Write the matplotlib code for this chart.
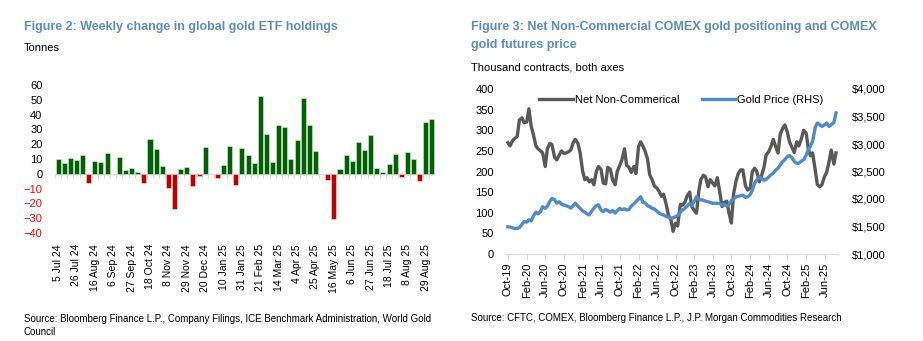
import numpy as np
import pandas as pd
import matplotlib
matplotlib.use('Agg')
import matplotlib.pyplot as plt
import matplotlib.dates as mdates
from matplotlib.ticker import FuncFormatter

plt.rcParams['font.family'] = ['Liberation Sans', 'DejaVu Sans']

# Figure 2 data: weekly change in global gold ETF holdings (tonnes), weeks from 5 Jul 24
etf_change = [10.1, 7.4, 10.7, 9.4, 12.5, -6.5, 8.5, 7.8, 14.1, 0.0,
              11.6, 2.9, 3.8, 1.3, -6.5, 23.7, 16.6, 5.1, -9.8, -23.9,
              3.4, 4.3, -8.5, -1.8, 17.9, -0.4, -3.1, 5.8, 18.6, -7.8,
              17.2, 12.5, 7.4, 52.6, 27.1, 8.1, 33.3, 31.3, 10.3, 22.8,
              51.5, 33.1, 15.4, 0.2, -4.4, -30.8, 3.1, 12.6, 8.6, 21.8,
              15.9, 26.3, 3.9, 1.4, 6.6, 13.5, -2.3, 14.8, 10.0, -5.0,
              35.0, 37.0]
week_start = '2024-07-05'

# Figure 3 data: semi-monthly readings from Oct-19
net_noncomm = [270, 262, 275, 280, 285, 325, 330, 318, 320, 352,
               310, 290, 262, 255, 250, 245, 212, 255, 268, 265,
               235, 228, 240, 250, 244, 245, 248, 252, 270, 278,
               268, 245, 200, 180, 185, 175, 180, 168, 200, 212,
               205, 172, 170, 210, 205, 180, 168, 200, 215, 228,
               255, 215, 210, 198, 212, 195, 260, 272, 262, 250,
               230, 192, 180, 165, 160, 152, 140, 145, 120, 95,
               82, 55, 75, 68, 120, 118, 125, 140, 150, 115,
               105, 99, 150, 180, 191, 187, 163, 180, 172, 165,
               185, 155, 115, 125, 128, 100, 75, 145, 178, 195,
               204, 204, 165, 155, 160, 200, 208, 200, 175, 190,
               210, 240, 248, 260, 278, 262, 245, 290, 305, 313,
               295, 272, 258, 246, 272, 262, 280, 300, 293, 255,
               238, 245, 204, 168, 163, 168, 188, 198, 225, 252,
               218, 245]
gold_price = [1495, 1490, 1475, 1465, 1465, 1480, 1540, 1590, 1580, 1620,
              1600, 1690, 1760, 1730, 1770, 1860, 1830, 1870, 1960, 2010,
              1990, 1925, 1950, 1905, 1890, 1880, 1860, 1835, 1880, 1925,
              1870, 1830, 1780, 1760, 1730, 1710, 1780, 1830, 1880, 1895,
              1800, 1770, 1810, 1790, 1760, 1790, 1745, 1790, 1830, 1805,
              1820, 1800, 1810, 1870, 1910, 1950, 2000, 2040, 1940, 1930,
              1880, 1860, 1830, 1820, 1780, 1745, 1720, 1710, 1680, 1670,
              1650, 1660, 1680, 1700, 1760, 1800, 1830, 1870, 1920, 1880,
              1960, 2040, 2000, 1985, 1980, 1960, 1950, 1940, 1920, 1925,
              1920, 1920, 1890, 1900, 1870, 1900, 1970, 2000, 2040, 2050,
              2060, 2070, 2030, 2040, 2080, 2160, 2290, 2340, 2400, 2380,
              2340, 2360, 2400, 2440, 2470, 2520, 2560, 2620, 2680, 2720,
              2770, 2790, 2750, 2680, 2650, 2650, 2690, 2710, 2800, 2900,
              2960, 3050, 3300, 3380, 3350, 3320, 3350, 3380, 3320, 3350,
              3390, 3565]

title_blue = '#5B8DC4'
green = '#006100'
red = '#C00000'
grey_line = '#595959'
gold_blue = '#4F8BC9'
light = '#D9D9D9'

W, H = 923, 341
fig = plt.figure(figsize=(W / 100, H / 100), dpi=100)

# ---------------- Figure 2 ----------------
weeks = pd.date_range(week_start, periods=len(etf_change), freq='7D')
labels = [f"{d.day} {d:%b %y}" for d in weeks]
x = np.arange(len(etf_change))
vals = np.array(etf_change)
colors = [green if v >= 0 else red for v in vals]

ax1 = fig.add_axes([55 / W, 1 - 233 / H, 380 / W, 148 / H])
ax1.bar(x, vals, width=0.82, color=colors, edgecolor='#E6E6E6', linewidth=0.4, zorder=3)
ax1.axhline(0, color=light, lw=1.0, zorder=2)
ax1.set_xlim(-0.5, len(x) - 0.5)
ax1.set_ylim(-40, 60)
ax1.set_yticks(np.arange(-40, 61, 10))
ax1.tick_params(axis='y', length=0, pad=9, labelsize=8)
for t, v in zip(ax1.get_yticklabels(), np.arange(-40, 61, 10)):
    t.set_color('#FF0000' if v < 0 else 'black')
ax1.set_xticks(x[::3])
ax1.set_xticklabels(labels[::3], rotation=90, fontsize=7.5)
ax1.tick_params(axis='x', length=0, pad=8)
for s in ax1.spines.values():
    s.set_visible(False)
# small category ticks on the zero line
sec = ax1.secondary_xaxis(0.4)
sec.set_xticks(x - 0.5)
sec.set_xticklabels([])
sec.tick_params(axis='x', direction='out', length=3, color=light, width=0.8)
sec.spines['bottom'].set_visible(False)

fig.text(24 / W, 1 - 27 / H, 'Figure 2: Weekly change in global gold ETF holdings',
         fontsize=9, fontweight='bold', color=title_blue, va='center')
fig.text(24 / W, 1 - 48 / H, 'Tonnes', fontsize=8, va='center')
fig.text(24 / W, 1 - 314 / H,
         'Source: Bloomberg Finance L.P., Company Filings, ICE Benchmark Administration, World Gold\nCouncil',
         fontsize=7, va='top', linespacing=1.35)

# ---------------- Figure 3 ----------------
dates = pd.date_range('2019-10-01', periods=len(net_noncomm), freq='SMS')

ax2 = fig.add_axes([505 / W, 1 - 254 / H, 333 / W, 165 / H])
l1, = ax2.plot(dates, net_noncomm, color=grey_line, lw=2.4, label='Net Non-Commerical')
ax2.set_ylim(0, 400)
ax2.set_yticks(np.arange(0, 401, 50))
ax2.set_xlim(pd.Timestamp('2019-09-12'), pd.Timestamp('2025-08-28'))
ax2.xaxis.set_major_locator(mdates.MonthLocator(bymonth=[2, 6, 10]))
ax2.xaxis.set_major_formatter(mdates.DateFormatter('%b-%y'))
plt.setp(ax2.get_xticklabels(), rotation=90, fontsize=8)
ax2.tick_params(axis='x', direction='out', length=4, color=light, pad=2)
ax2.tick_params(axis='y', length=0, pad=8, labelsize=8)
for k in ['top', 'right', 'left']:
    ax2.spines[k].set_visible(False)
ax2.spines['bottom'].set_color(light)

ax3 = ax2.twinx()
l2, = ax3.plot(dates, gold_price, color=gold_blue, lw=2.4, label='Gold Price (RHS)')
ax3.set_ylim(1000, 4000)
ax3.set_yticks(np.arange(1000, 4001, 500))
ax3.yaxis.set_major_formatter(FuncFormatter(lambda v, p: f'${v:,.0f}'))
ax3.tick_params(axis='y', length=0, pad=10, labelsize=8)
for s in ax3.spines.values():
    s.set_visible(False)

ax3.legend(handles=[l1, l2], loc='upper left', bbox_to_anchor=(0.09, 0.99), ncol=2,
           frameon=False, fontsize=8, handlelength=3.0, handletextpad=0.2,
           columnspacing=2.0, borderaxespad=0)

fig.text(471 / W, 1 - 27 / H, 'Figure 3: Net Non-Commercial COMEX gold positioning and COMEX',
         fontsize=9, fontweight='bold', color=title_blue, va='center')
fig.text(471 / W, 1 - 45 / H, 'gold futures price',
         fontsize=9, fontweight='bold', color=title_blue, va='center')
fig.text(471 / W, 1 - 67 / H, 'Thousand contracts, both axes', fontsize=8, va='center')
fig.text(471 / W, 1 - 318 / H,
         'Source: CFTC, COMEX, Bloomberg Finance L.P., J.P. Morgan Commodities Research',
         fontsize=7, va='center')

fig.savefig('out.png', dpi=100)
